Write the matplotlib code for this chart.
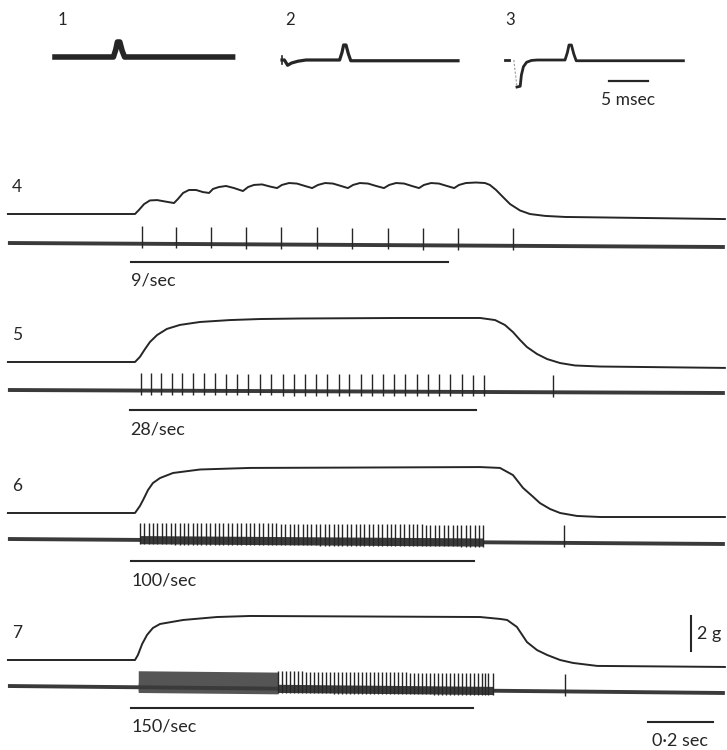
from matplotlib import pyplot as plt
import numpy as np

plt.rcParams['font.family'] = ['Lato', 'DejaVu Sans']

# ********** Data **********

# single shocks 1-3: time (msec) from start of each sweep, amplitude (arbitrary units)
sweep1Ms = [0, 7.3, 7.6, 7.8, 8.1, 8.4, 8.7, 22.2]
sweep1Amp = [0, 0, 0.5, 1.0, 1.0, 0.4, 0, 0]
sweep2Ms = [0, 0.3, 0.7, 1.2, 2.0, 3.0, 7.2, 7.5, 7.7, 8.0, 8.3, 8.6, 9.5, 22.0]
sweep2Amp = [0, 0, -0.35, -0.2, -0.08, 0, 0, 0.5, 1.0, 1.0, 0.4, -0.05, -0.05, -0.05]
sweep3Ms = [1.5, 1.9, 2.05, 2.3, 2.7, 3.3, 4.0, 7.5, 7.8, 8.0, 8.3, 8.6, 8.9, 10.0, 22.3]
sweep3Amp = [-1.8, -1.75, -1.0, -0.45, -0.15, -0.03, 0, 0, 0.5, 1.0, 1.0, 0.4, -0.05, -0.05, -0.05]
sweepLabels = ['1', '2', '3']

# tetani 4-7: time (sec) from stimulus onset, tension (g) above resting level
tension4Sec = [-0.391, 0, 0.012, 0.028, 0.046, 0.068, 0.092, 0.120, 0.132, 0.148, 0.166, 0.188, 0.209, 0.228,
               0.240, 0.258, 0.280, 0.305, 0.332, 0.348, 0.366, 0.391, 0.415, 0.437, 0.452, 0.474, 0.498, 0.523,
               0.545, 0.563, 0.585, 0.609, 0.634, 0.655, 0.671, 0.692, 0.717, 0.742, 0.766, 0.782, 0.803, 0.828,
               0.852, 0.874, 0.889, 0.911, 0.935, 0.960, 0.982, 0.997, 1.018, 1.049, 1.077, 1.092, 1.111, 1.132,
               1.154, 1.185, 1.215, 1.262, 1.323, 1.815]
tension4G = [0, 0, 0.23, 0.57, 0.78, 0.80, 0.72, 0.63, 0.86, 1.21, 1.38, 1.38, 1.26, 1.21,
             1.44, 1.55, 1.61, 1.49, 1.32, 1.55, 1.67, 1.70, 1.58, 1.49, 1.67, 1.78, 1.75, 1.61,
             1.49, 1.67, 1.78, 1.75, 1.61, 1.49, 1.67, 1.78, 1.75, 1.61, 1.49, 1.67, 1.78, 1.75,
             1.61, 1.49, 1.67, 1.78, 1.75, 1.61, 1.49, 1.67, 1.78, 1.81, 1.78, 1.67, 1.38, 0.98,
             0.57, 0.20, 0.0, -0.11, -0.17, -0.29]
tension5Sec = [-0.391, 0, 0.015, 0.031, 0.046, 0.068, 0.098, 0.138, 0.200, 0.292, 0.385, 0.508, 0.815, 1.062,
               1.108, 1.138, 1.163, 1.185, 1.206, 1.237, 1.268, 1.308, 1.354, 1.431, 1.815]
tension5G = [0, 0, 0.29, 0.75, 1.15, 1.55, 1.90, 2.13, 2.30, 2.41, 2.47, 2.50, 2.53, 2.53,
             2.41, 2.13, 1.72, 1.26, 0.86, 0.46, 0.17, -0.06, -0.20, -0.26, -0.34]
tension6Sec = [-0.391, 0, 0.015, 0.025, 0.040, 0.055, 0.077, 0.117, 0.200, 0.354, 0.662, 1.062,
               1.123, 1.163, 1.194, 1.222, 1.246, 1.277, 1.308, 1.360, 1.431, 1.815]
tension6G = [0, 0, 0.40, 0.75, 1.32, 1.72, 2.01, 2.30, 2.50, 2.59, 2.61, 2.64,
             2.59, 2.18, 1.44, 0.98, 0.57, 0.23, 0, -0.17, -0.23, -0.23]
tension7Sec = [-0.391, 0, 0.009, 0.022, 0.037, 0.055, 0.077, 0.148, 0.252, 0.354, 1.062,
               1.123, 1.145, 1.175, 1.206, 1.237, 1.268, 1.308, 1.348, 1.422, 1.815]
tension7G = [0, 0, 0.29, 0.92, 1.44, 1.84, 2.07, 2.30, 2.47, 2.53, 2.47,
             2.36, 2.30, 1.90, 1.03, 0.57, 0.29, 0, -0.17, -0.34, -0.40]

# nerve action potentials during each train (msec from onset), last one after the train
spikes4Ms = [22, 126, 234, 342, 449, 560, 668, 778, 886, 994]
spikes5Ms = [18, 49, 80, 114, 145, 178, 212, 246, 280, 314, 348, 385, 418, 455, 489, 523, 557, 591,
             628, 658, 695, 729, 763, 797, 831, 868, 902, 935, 969, 1006, 1040, 1074]
spikes6Ms = [15, 28, 42, 55, 69, 82, 96, 110, 123, 137, 150, 164, 177, 191, 204, 218, 232, 245, 259, 272,
             286, 299, 313, 326, 340, 354, 367, 381, 394, 408, 421, 435, 448, 462, 476, 489, 503, 516, 530, 543,
             557, 570, 584, 598, 611, 625, 638, 652, 665, 679, 692, 706, 720, 733, 747, 760, 774, 787, 801, 814,
             828, 842, 855, 869, 882, 896, 909, 923, 936, 950, 964, 977, 991, 1004, 1018, 1031, 1045, 1058, 1071]
spikes7Ms = [440, 452, 465, 477, 489, 502, 514, 526, 538, 551, 563, 575, 588, 600, 612, 625, 637, 649, 661, 674,
             686, 698, 711, 723, 735, 748, 760, 772, 784, 797, 809, 821, 834, 846, 858, 871, 883, 895, 907, 920,
             932, 944, 957, 969, 981, 994, 1006, 1018, 1030, 1043, 1055, 1068, 1077, 1086, 1102]
block7Ms = [10, 440]
lateSpikeMs = [1163, 1286, 1320, 1323]
stimBarsMs = [[-12, 963], [-15, 1049], [-12, 1043], [-12, 1040]]
trainLabels = ['9/sec', '28/sec', '100/sec', '150/sec']
rowLabels = ['4', '5', '6', '7']


# ********** Layout (pixels of a 727 x 750 figure) **********

W, H = 727, 750
INK = '#262626'
EMG = '#3a3a3a'
PX_PER_MS_TOP = 8.0
PX_PER_SEC = 325.0
PX_PER_G = 17.4
ONSET_PX = 135
rowBasePx = [214, 362, 513, 660]
emgDropPx = [(29, 33), (28, 31), (26, 31), (26, 33)]

fig = plt.figure(figsize=(W / 100, H / 100), dpi=100)
fig.patch.set_facecolor('white')


# ***** Single shocks *****

def plotSweep(ax, originPx, levelPx, ms, amp, lineWidth):
	x0 = originPx / PX_PER_MS_TOP
	dy = (60 - levelPx) / 15.0
	ax.plot(np.array(ms) + x0, np.array(amp) + dy, color=INK, lw=lineWidth, solid_joinstyle='round')

top = fig.add_axes([0, 1 - 130 / H, 1, 130 / H])
top.set_xlim(0, W / PX_PER_MS_TOP)
top.set_ylim((60 - 130) / 15.0, 60 / 15.0)
top.axis('off')

plotSweep(top, 55, 57, sweep1Ms, sweep1Amp, 4.0)
plotSweep(top, 282, 60, sweep2Ms, sweep2Amp, 2.3)
plotSweep(top, 505, 60, sweep3Ms, sweep3Amp, 2.0)
# stimulus artefacts at start of sweeps 2 and 3
top.plot([282 / 8, 282 / 8], [-0.25, 0.25], color=INK, lw=1.2)
top.plot([505 / 8, 505 / 8 + 0.5], [0, 0], color=INK, lw=2.0)
top.plot([505 / 8 + 1.1, 505 / 8 + 1.5], [0, -1.8], color='#9a9a9a', lw=0.8, ls=(0, (2, 1.5)))
for label, xPx in zip(sweepLabels, [62, 290, 510]):
	top.text(xPx / PX_PER_MS_TOP, (60 - 20) / 15.0, label, ha='center', va='center', fontsize=12, color=INK)
top.plot([609 / 8, 648 / 8], [-1.4, -1.4], color=INK, lw=1.6)
top.text(628.5 / 8, (60 - 100) / 15.0, '5 msec', ha='center', va='center', fontsize=12.5, color=INK)


# ***** Tetani *****

def rowAxes(basePx):
	topPx, bottomPx = basePx - 75, basePx + 90
	ax = fig.add_axes([0, 1 - bottomPx / H, 1, (bottomPx - topPx) / H])
	ax.set_xlim(-ONSET_PX / PX_PER_SEC, (W - ONSET_PX) / PX_PER_SEC)
	ax.set_ylim(-90 / PX_PER_G, 75 / PX_PER_G)
	ax.axis('off')
	ax.patch.set_alpha(0)
	return ax

def plotTrain(ax, i, tensionSec, tensionG, spikesMs):
	ax.plot(tensionSec, tensionG, color=INK, lw=1.4)
	t0, t1 = tensionSec[0], tensionSec[-1]
	e0, e1 = -emgDropPx[i][0] / PX_PER_G, -emgDropPx[i][1] / PX_PER_G
	ax.plot([t0, t1], [e0, e1], color=EMG, lw=2.8, solid_capstyle='butt')

	spikes = np.array(spikesMs + [lateSpikeMs[i]]) / 1000.0
	base = np.interp(spikes, [t0, t1], [e0, e1])
	ax.vlines(spikes, base - 0.25, base + 1.0, color=INK, lw=1.0)

	# thickened record while the train runs
	if i >= 2:
		span = np.array([spikesMs[0] if i == 2 else block7Ms[0], spikesMs[-1]]) / 1000.0
		b = np.interp(span, [t0, t1], [e0, e1])
		ax.fill_between(span, b - 0.22, b + 0.25, color=EMG, lw=0)
	if i == 3:
		blk = np.array(block7Ms) / 1000.0
		b = np.interp(blk, [t0, t1], [e0, e1])
		ax.fill_between(blk, b - 0.3, b + 0.95, color='#555555', lw=0)

	stim = np.array(stimBarsMs[i]) / 1000.0
	ax.plot(stim, [-48 / PX_PER_G] * 2, color=INK, lw=1.5)
	ax.text(stim[0], -67 / PX_PER_G, trainLabels[i], ha='left', va='center', fontsize=13, color=INK)
	ax.text((17 - ONSET_PX) / PX_PER_SEC, 27 / PX_PER_G, rowLabels[i], ha='center', va='center',
		fontsize=12.5, color=INK)

tensionSecs = [tension4Sec, tension5Sec, tension6Sec, tension7Sec]
tensionGs = [tension4G, tension5G, tension6G, tension7G]
spikeLists = [spikes4Ms, spikes5Ms, spikes6Ms, spikes7Ms]

rows = []
for i in range(4):
	ax = rowAxes(rowBasePx[i])
	plotTrain(ax, i, tensionSecs[i], tensionGs[i], spikeLists[i])
	rows.append(ax)

# calibration: 2 g and 0.2 sec, drawn in row 7 units
last = rows[3]
barSec = (691 - ONSET_PX) / PX_PER_SEC
last.plot([barSec, barSec], [0.52, 2.52], color=INK, lw=1.5)
last.text(barSec + 0.018, 1.52, '2 g', ha='left', va='center', fontsize=13, color=INK)
last.plot([1.578, 1.778], [-62 / PX_PER_G] * 2, color=INK, lw=1.5)
last.text(1.678, -81 / PX_PER_G, '0\u00b72 sec', ha='center', va='center', fontsize=13, color=INK)

fig.savefig('out.png', dpi=100, facecolor='white')
